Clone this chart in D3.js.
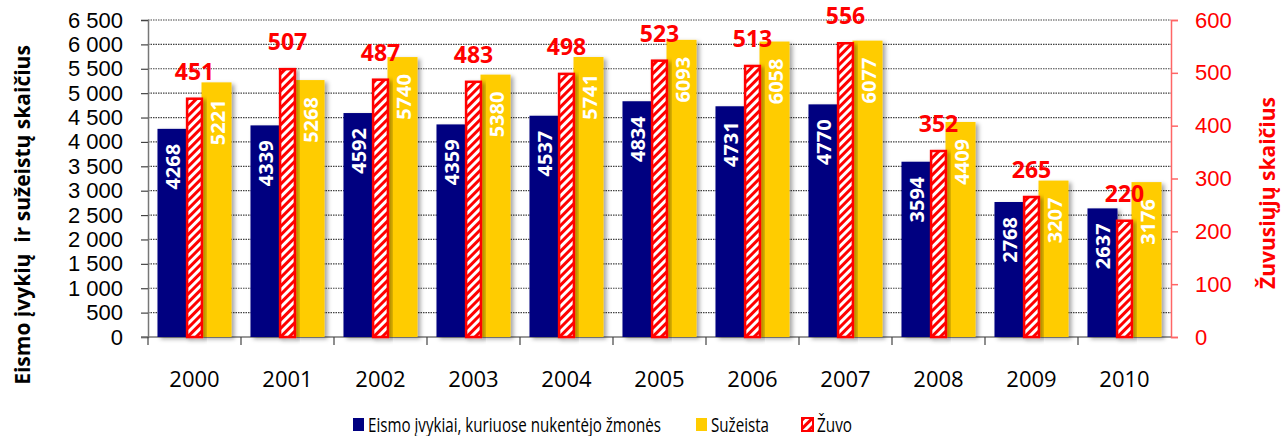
<!DOCTYPE html>
<html>
<head>
<meta charset="utf-8">
<script src="https://cdn.jsdelivr.net/npm/d3@7"></script>
<style>
  body { margin: 0; background: #fff; }
  svg { font-family: "Open Sans", sans-serif; display: block; }
</style>
</head>
<body>
<svg class="chart"></svg>
<script>
const years = ["2000", "2001", "2002", "2003", "2004", "2005", "2006", "2007", "2008", "2009", "2010"];
const accidents = [4268, 4339, 4592, 4359, 4537, 4834, 4731, 4770, 3594, 2768, 2637];
const injured = [5221, 5268, 5740, 5380, 5741, 6093, 6058, 6077, 4409, 3207, 3176];
const killed = [451, 507, 487, 483, 498, 523, 513, 556, 352, 265, 220];
const leftTicks = d3.range(0, 6501, 500);
const rightTicks = d3.range(0, 601, 100);
const legendNames = ["Eismo įvykiai, kuriuose nukentėjo žmonės", "Sužeista", "Žuvo"];

const width = 1287, height = 436;
const margin = {top: 20, right: 116, bottom: 99, left: 148};
const blue = "#000080", yellow = "#ffcc00", red = "#ff0000";

const svg = d3.select(".chart").attr("width", width).attr("height", height);

const defs = svg.append("defs");
const pat = defs.append("pattern")
    .attr("id", "hatch")
    .attr("patternUnits", "userSpaceOnUse")
    .attr("width", 6).attr("height", 6)
    .attr("patternTransform", "rotate(45)");
pat.append("rect").attr("width", 6).attr("height", 6).attr("fill", "#fff");
pat.append("rect").attr("width", 3).attr("height", 6).attr("fill", red);

const shadow = defs.append("filter").attr("id", "shadow")
    .attr("x", "-20%").attr("y", "-5%").attr("width", "150%").attr("height", "115%");
shadow.append("feDropShadow")
    .attr("dx", 3).attr("dy", 2).attr("stdDeviation", 2)
    .attr("flood-color", "#000").attr("flood-opacity", 0.35);

const x = d3.scaleBand()
    .domain(years)
    .range([margin.left, width - margin.right])
    .paddingInner(0.204)
    .paddingOuter(0.102);

const x1 = d3.scaleBand()
    .domain(["a", "b"])
    .range([0, x.bandwidth()])
    .paddingInner(0.318);

const y = d3.scaleLinear().domain([0, 6500]).range([height - margin.bottom, margin.top]);
const y2 = d3.scaleLinear().domain([0, 600]).range([height - margin.bottom, margin.top]);

const plotL = margin.left, plotR = width - margin.right, plotB = height - margin.bottom;

// grid
svg.append("g")
    .selectAll("line")
    .data(leftTicks.filter(d => d > 0))
    .enter().append("line")
    .attr("x1", plotL).attr("x2", plotR)
    .attr("y1", d => y(d)).attr("y2", d => y(d))
    .attr("stroke", "#444").attr("stroke-width", 1.2)
    .attr("stroke-dasharray", "1.5,1");

// left axis
const fmt = d => d3.format(",")(d).replace(",", " ");
const yAxis = svg.append("g")
    .attr("transform", `translate(${plotL},0)`)
    .call(d3.axisLeft(y).tickValues(leftTicks).tickFormat(fmt).tickSize(7).tickPadding(18));
yAxis.select(".domain").attr("stroke", "#777").attr("stroke-width", 1.5);
yAxis.selectAll(".tick line").attr("stroke", "#444").attr("stroke-width", 1.2);
yAxis.selectAll("text").attr("font-size", 22).attr("fill", "#000");

// bottom axis
const xAxis = svg.append("g").attr("transform", `translate(0,${plotB})`);
xAxis.append("line").attr("x1", plotL - 7).attr("x2", plotR).attr("stroke", "#777").attr("stroke-width", 1.5);
xAxis.selectAll(".sep")
    .data(years)
    .enter().append("line")
    .attr("x1", d => x(d) - x.step() * x.paddingInner() / 2)
    .attr("x2", d => x(d) - x.step() * x.paddingInner() / 2)
    .attr("y1", 0).attr("y2", 8)
    .attr("stroke", "#444").attr("stroke-width", 1.2);
xAxis.selectAll(".lbl")
    .data(years)
    .enter().append("text")
    .attr("x", d => x(d) + x.bandwidth() / 2)
    .attr("y", 50)
    .attr("text-anchor", "middle")
    .attr("font-size", 22)
    .text(d => d);

// right axis
const yAxis2 = svg.append("g")
    .attr("transform", `translate(${plotR},0)`)
    .call(d3.axisRight(y2).tickValues(rightTicks).tickSize(7).tickPadding(17));
yAxis2.select(".domain").attr("stroke", "#ff6666").attr("stroke-width", 1.5);
yAxis2.selectAll(".tick line").attr("stroke", "#ff6666").attr("stroke-width", 1.5);
yAxis2.selectAll("text").attr("font-size", 22).attr("fill", red);

// bars
const groups = svg.append("g")
    .selectAll("g")
    .data(years.map((yr, i) => ({yr, a: accidents[i], b: injured[i], k: killed[i]})))
    .enter().append("g")
    .attr("transform", d => `translate(${x(d.yr)},0)`);

groups.append("rect")
    .attr("x", x1("a")).attr("width", x1.bandwidth())
    .attr("y", d => y(d.a)).attr("height", d => plotB - y(d.a))
    .attr("fill", blue).attr("filter", "url(#shadow)");

groups.append("rect")
    .attr("x", x1("b")).attr("width", x1.bandwidth())
    .attr("y", d => y(d.b)).attr("height", d => plotB - y(d.b))
    .attr("fill", yellow).attr("filter", "url(#shadow)");

const kw = x.bandwidth() * 0.2;
groups.append("rect")
    .attr("x", x.bandwidth() / 2 - kw / 2).attr("width", kw)
    .attr("y", d => y2(d.k)).attr("height", d => plotB - y2(d.k))
    .attr("fill", "url(#hatch)").attr("stroke", red).attr("stroke-width", 2.5)
    .attr("filter", "url(#shadow)");

// value labels inside bars
groups.append("text")
    .attr("transform", d => `translate(${x1("a") + x1.bandwidth() / 2 + 8},${y(d.a) + 15}) rotate(-90)`)
    .attr("text-anchor", "end")
    .attr("font-size", 20).attr("font-weight", "bold").attr("fill", "#fff")
    .text(d => d.a);

groups.append("text")
    .attr("transform", d => `translate(${x1("b") + x1.bandwidth() / 2 + 8},${y(d.b) + 17}) rotate(-90)`)
    .attr("text-anchor", "end")
    .attr("font-size", 20).attr("font-weight", "bold").attr("fill", "#fff")
    .text(d => d.b);

groups.append("text")
    .attr("x", x.bandwidth() / 2)
    .attr("y", d => y2(d.k) - 19)
    .attr("text-anchor", "middle")
    .attr("font-size", 23).attr("font-weight", "bold").attr("fill", red)
    .text(d => d.k);

// axis titles
svg.append("text")
    .attr("transform", `translate(30,${(40 + 390) / 2}) rotate(-90)`)
    .attr("text-anchor", "middle")
    .style("white-space", "pre")
    .attr("font-size", 21).attr("font-weight", "bold")
    .text("Eismo įvykių  ir sužeistų skaičius");

svg.append("text")
    .attr("transform", `translate(1275,193) rotate(-90)`)
    .attr("text-anchor", "middle")
    .attr("font-size", 21).attr("font-weight", "bold").attr("fill", red)
    .text("Žuvusiųjų skaičius");

// legend
const legendX = [353, 696, 802];
const legendLen = [293, 58, 35];
const legendFill = [blue, yellow, "url(#hatch)"];
const leg = svg.append("g")
    .selectAll("g")
    .data(legendNames)
    .enter().append("g")
    .attr("transform", (d, i) => `translate(${legendX[i]},418)`);
leg.append("rect")
    .attr("width", 11).attr("height", 13)
    .attr("fill", (d, i) => legendFill[i])
    .attr("stroke", (d, i) => i === 2 ? red : "none")
    .attr("stroke-width", 2);
leg.append("text")
    .attr("x", 15).attr("y", 14)
    .attr("font-size", 20)
    .attr("textLength", (d, i) => legendLen[i])
    .attr("lengthAdjust", "spacingAndGlyphs")
    .text(d => d);
</script>
</body>
</html>
